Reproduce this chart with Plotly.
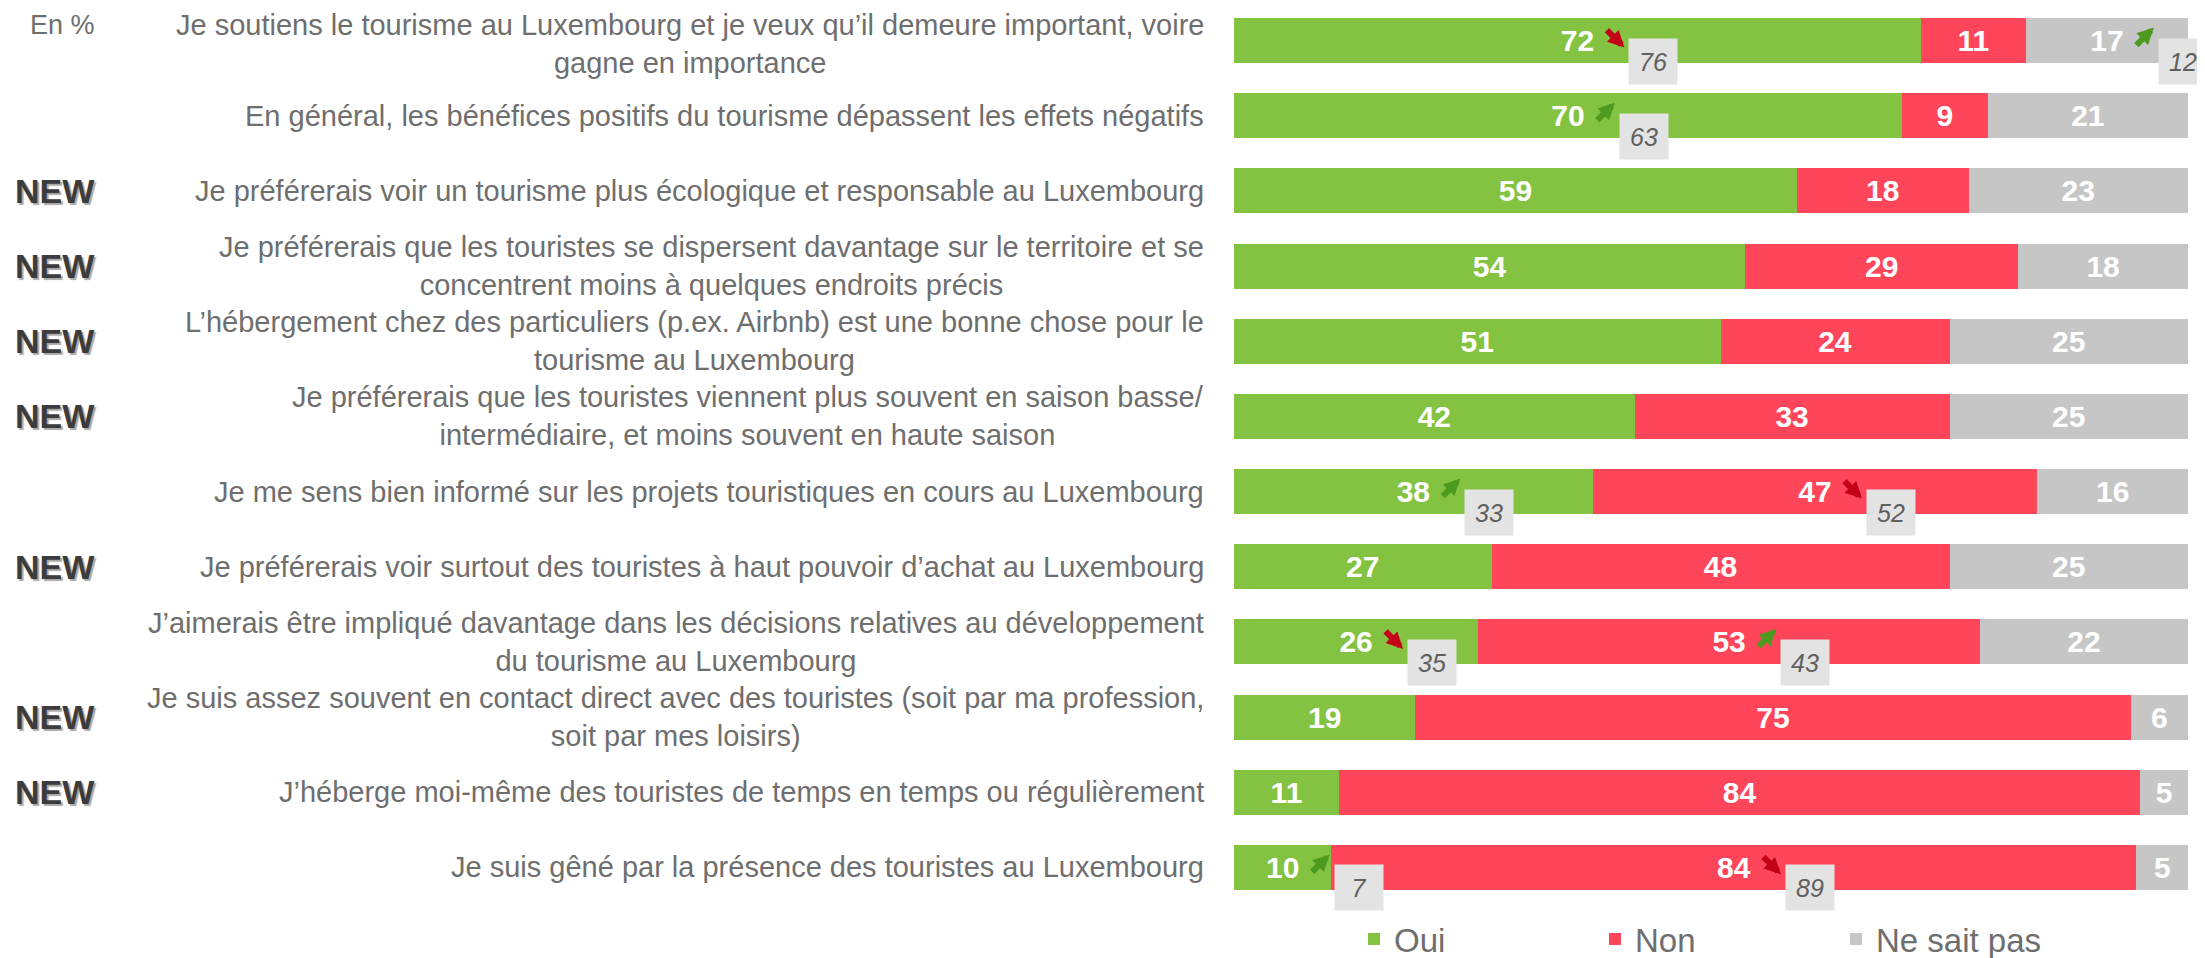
import plotly.graph_objects as go

labels = [
    "Je soutiens le tourisme au Luxembourg et je veux qu’il demeure important, voire<br>gagne en importance",
    "En général, les bénéfices positifs du tourisme dépassent les effets négatifs",
    "Je préférerais voir un tourisme plus écologique et responsable au Luxembourg",
    "Je préférerais que les touristes se dispersent davantage sur le territoire et se<br>concentrent moins à quelques endroits précis",
    "L’hébergement chez des particuliers (p.ex. Airbnb) est une bonne chose pour le<br>tourisme au Luxembourg",
    "Je préférerais que les touristes viennent plus souvent en saison basse/<br>intermédiaire, et moins souvent en haute saison",
    "Je me sens bien informé sur les projets touristiques en cours au Luxembourg",
    "Je préférerais voir surtout des touristes à haut pouvoir d’achat au Luxembourg",
    "J’aimerais être impliqué davantage dans les décisions relatives au développement<br>du tourisme au Luxembourg",
    "Je suis assez souvent en contact direct avec des touristes (soit par ma profession,<br>soit par mes loisirs)",
    "J’héberge moi-même des touristes de temps en temps ou régulièrement",
    "Je suis gêné par la présence des touristes au Luxembourg",
]
is_new = [False, False, True, True, True, True, False, True, False, True, True, False]

oui = [72, 70, 59, 53.6, 51, 42, 37.6, 27, 25.6, 19, 11, 10.2]
non = [11, 9, 18, 28.6, 24, 33, 46.6, 48, 52.6, 75, 84, 84.4]
nsp = [17, 21, 23, 17.8, 25, 25, 15.8, 25, 21.8, 6, 5, 5.4]

# previous wave values (grey boxes)
prev_oui = [76, 63, None, None, None, None, 33, None, 35, None, None, 7]
prev_non = [None, None, None, None, None, None, 52, None, 43, None, None, 89]
prev_nsp = [12, None, None, None, None, None, None, None, None, None, None, None]

series = [
    ("Oui", oui, "#84C241"),
    ("Non", non, "#FF455A"),
    ("Ne sait pas", nsp, "#C6C6C6"),
]

# page has an 8px body margin, so the figure is laid out 8px up/left
W, H = 2197, 950
ML, MR, MT, MB = 1226, 0, 0, 53
pw = W - ML - MR
ph = H - MT - MB
x_max = pw / 954 * 100
n = len(labels)
row_px = 75.17
y_top = n - 0.5 - ph / row_px

sans = "Liberation Sans, Arial, sans-serif"
rows = list(range(n))

fig = go.Figure()
for name, vals, col in series:
    fig.add_trace(go.Bar(
        y=rows, x=vals, name=name, orientation="h",
        marker=dict(color=col, line=dict(width=0)),
        texttemplate="%{x:.0f}", textposition="inside",
        insidetextanchor="middle", constraintext="none", textangle=0,
        textfont=dict(family=sans, size=30, color="white", weight="bold"),
        hoverinfo="skip",
    ))

ann = []
for i, lab in enumerate(labels):
    ann.append(dict(xref="paper", yref="y", x=(1198 - ML) / pw, y=i, text=lab,
                    yshift=-3 if i == 0 else 0,
                    xanchor="right", yanchor="middle", align="center", showarrow=False,
                    font=dict(family=sans, size=29, color="#6E6E6E")))
    if is_new[i]:
        ann.append(dict(xref="paper", yref="y", x=(5 - ML) / pw, y=i, text="NEW",
                        xanchor="left", yanchor="middle", showarrow=False,
                        font=dict(family=sans, size=34, color="#3C3C3C", weight="bold",
                                  shadow="2px 2px 1px #A8A8A8")))

# comparison arrows and previous-wave boxes
starts = [0] * n
for (name, vals, col), prev in zip(series, [prev_oui, prev_non, prev_nsp]):
    for i, v in enumerate(vals):
        centre = starts[i] + v / 2
        starts[i] += v
        p = prev[i]
        if p is None:
            continue
        up = round(v) > p
        ann.append(dict(xref="x", yref="y", x=centre, y=i,
                        xshift=47, yshift=13 if up else -7,
                        ax=-19, ay=19 if up else -19, axref="pixel", ayref="pixel",
                        text="", font=dict(size=1), showarrow=True, arrowhead=2,
                        arrowsize=0.55, arrowwidth=6, standoff=0,
                        arrowcolor="#4E9A1F" if up else "#C40018"))
        ann.append(dict(xref="x", yref="y", x=centre, y=i, xshift=51, yshift=3,
                        xanchor="left", yanchor="top", text=str(p), showarrow=False,
                        width=48, height=45, borderpad=0, bgcolor="#E3E3E3",
                        valign="middle", align="center",
                        font=dict(family=sans, size=25, color="#606060", style="italic")))

ann.append(dict(xref="paper", yref="paper", x=(20 - ML) / pw, y=1,
                text="En %", xanchor="left", yanchor="top", showarrow=False,
                font=dict(family=sans, size=27, color="#6E6E6E")))

fig.update_layout(
    width=W, height=H,
    margin=dict(l=ML, r=MR, t=MT, b=MB),
    barmode="stack", bargap=0.4,
    plot_bgcolor="white", paper_bgcolor="white",
    xaxis=dict(range=[0, x_max], visible=False, fixedrange=True),
    yaxis=dict(range=[n - 0.5, y_top], visible=False, fixedrange=True),
    annotations=ann,
    showlegend=True,
    legend=dict(orientation="h", xref="container", yref="container",
                x=1346 / W, xanchor="left", y=1 - 931 / H, yanchor="middle",
                entrywidth=196, entrywidthmode="pixels", traceorder="normal",
                font=dict(family=sans, size=33, color="#6E6E6E")),
)

fig.write_html("out.html")
